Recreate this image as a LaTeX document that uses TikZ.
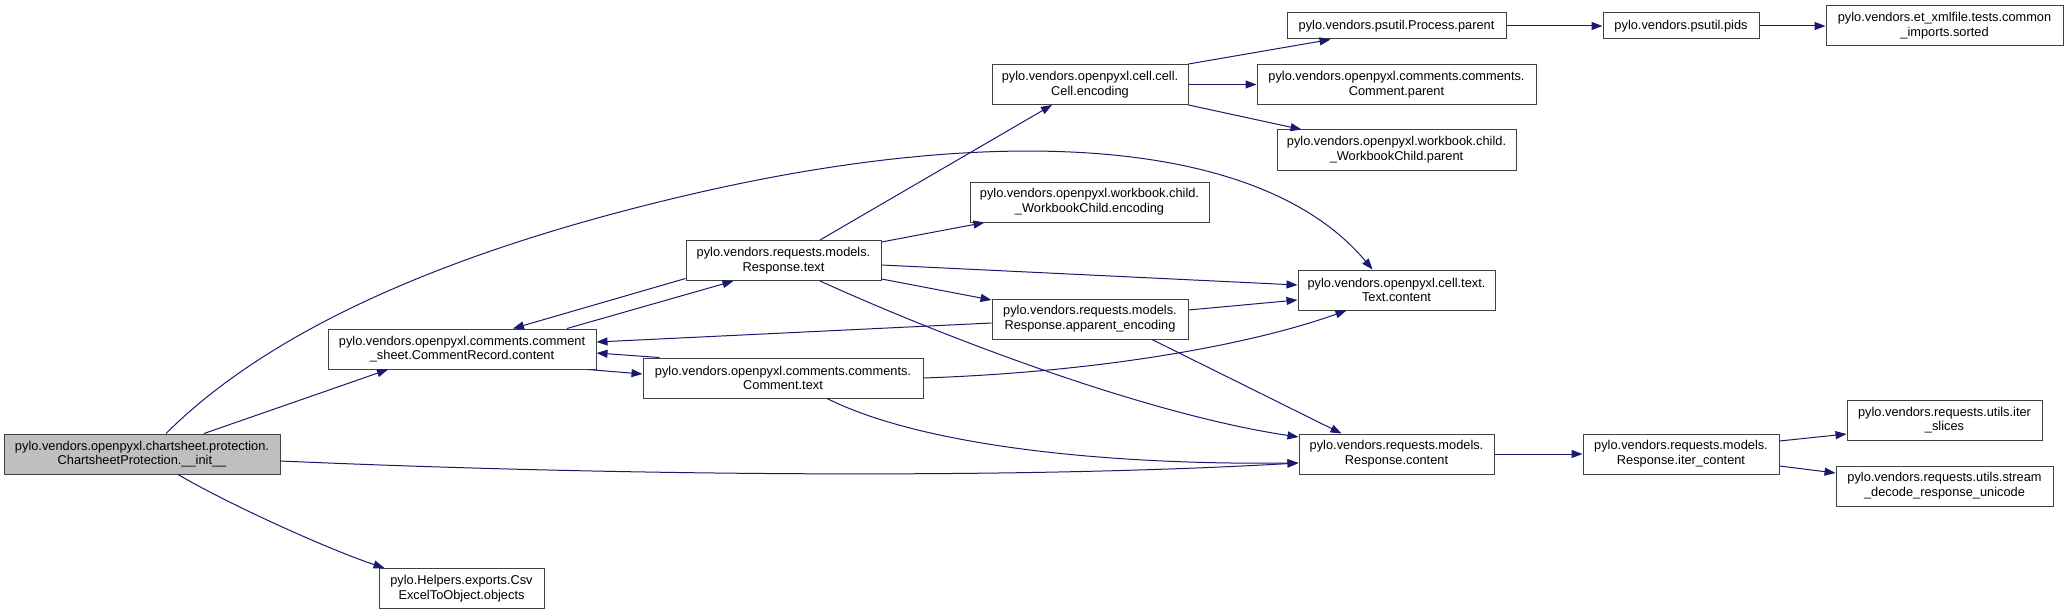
\documentclass[tikz,border=0pt]{standalone}
\usepackage{fontspec}
\setmainfont{Liberation Sans}
\usetikzlibrary{arrows.meta,calc}
\definecolor{enlace}{RGB}{25,25,112}
\definecolor{borde}{RGB}{64,64,64}
\definecolor{raiz}{RGB}{191,191,191}
\tikzset{
  fn/.style={draw=borde, line width=1pt, fill=white, align=center, inner sep=2pt, minimum height=40pt, font=\fontsize{12.8}{14.7}\selectfont},
  fnuna/.style={fn, minimum height=26pt},
  fnraiz/.style={fn, fill=raiz},
  fl/.style={-{Triangle[length=11pt,width=8pt]}, line width=1pt, enlace},
}
\begin{document}
\begin{tikzpicture}[x=1pt,y=-1pt]
  \useasboundingbox (0,0) rectangle (2068,615);
  % call graph boxes
  \node[fnraiz, minimum width=276pt] (main) at (142,454) {pylo.vendors.openpyxl.chartsheet.protection.\\ChartsheetProtection.\_\_init\_\_};
  \node[fn, minimum width=268pt] (cr) at (462,349) {pylo.vendors.openpyxl.comments.comment\\\_sheet.CommentRecord.content};
  \node[fn, minimum width=165pt] (csv) at (461.5,588.5) {pylo.Helpers.exports.Csv\\ExcelToObject.objects};
  \node[fn, minimum width=195pt] (rtext) at (783.5,260.5) {pylo.vendors.requests.models.\\Response.text};
  \node[fn, minimum width=280pt] (ctext) at (783,378) {pylo.vendors.openpyxl.comments.comments.\\Comment.text};
  \node[fn, minimum width=196pt] (aenc) at (1090,319) {pylo.vendors.requests.models.\\Response.apparent\_encoding};
  \node[fn, minimum width=196pt] (cellenc) at (1090,84.5) {pylo.vendors.openpyxl.cell.cell.\\Cell.encoding};
  \node[fn, minimum width=239pt] (wbenc) at (1089.5,202) {pylo.vendors.openpyxl.workbook.child.\\\_WorkbookChild.encoding};
  \node[fn, minimum width=197pt] (tcontent) at (1396.5,290) {pylo.vendors.openpyxl.cell.text.\\Text.content};
  \node[fn, minimum width=195pt] (rcontent) at (1396.5,454) {pylo.vendors.requests.models.\\Response.content};
  \node[fnuna, minimum width=219pt] (pparent) at (1396.5,26) {pylo.vendors.psutil.Process.parent};
  \node[fn, minimum width=279pt] (cparent) at (1396.5,84.5) {pylo.vendors.openpyxl.comments.comments.\\Comment.parent};
  \node[fn, minimum width=239pt] (wbparent) at (1396.5,150) {pylo.vendors.openpyxl.workbook.child.\\\_WorkbookChild.parent};
  \node[fnuna, minimum width=156pt] (pids) at (1681,26) {pylo.vendors.psutil.pids};
  \node[fn, minimum width=237pt] (sorted) at (1944.5,26) {pylo.vendors.et\_xmlfile.tests.common\\\_imports.sorted};
  \node[fn, minimum width=196pt] (itercontent) at (1681,454) {pylo.vendors.requests.models.\\Response.iter\_content};
  \node[fn, minimum width=195pt] (slices) at (1944.5,420) {pylo.vendors.requests.utils.iter\\\_slices};
  \node[fn, minimum width=217pt] (stream) at (1944.5,486) {pylo.vendors.requests.utils.stream\\\_decode\_response\_unicode};
  % calls
  \draw[fl] ($(main.north)+(62,0)$) -- ($(cr.south)+(-74,0)$);
  \draw[fl] ($(main.north)+(24,0)$) .. controls (260,340) and (420,260) .. (667,200)
    .. controls (990,121) and (1260,135) .. ($(tcontent.north)+(-24,0)$);
  \draw[fl] ($(main.east)+(0,7)$) .. controls (600,475) and (1000,480) .. ($(rcontent.west)+(0,9)$);
  \draw[fl] ($(main.south)+(36,0)$) .. controls (230,505) and (330,550) .. ($(csv.north west)+(6,0)$);
  \draw[fl] ($(cr.north)+(105,0)$) -- ($(rtext.south)+(-50,0)$);
  \draw[fl] ($(rtext.west)+(0,18)$) -- ($(cr.north)+(51,0)$);
  \draw[fl] ($(cr.south east)+(-9,0)$) -- ($(ctext.west)+(0,-4)$);
  \draw[fl] ($(ctext.north west)+(17,0)$) -- ($(cr.east)+(0,4)$);
  \draw[fl] ($(aenc.west)+(0,4)$) -- ($(cr.east)+(0,-7)$);
  \draw[fl] ($(rtext.north)+(36.5,0)$) -- ($(cellenc.south)+(-38,0)$);
  \draw[fl] ($(rtext.east)+(0,-18.5)$) -- ($(wbenc.south west)+(15,0)$);
  \draw[fl] ($(rtext.east)+(0,4.5)$) -- ($(tcontent.west)+(0,-5)$);
  \draw[fl] ($(rtext.east)+(0,18.5)$) -- ($(aenc.west)+(0,-19)$);
  \draw[fl] ($(rtext.south)+(36.5,0)$) .. controls (950,340) and (1150,415) .. ($(rcontent.west)+(0,-17)$);
  \draw[fl] ($(aenc.east)+(0,-9)$) -- ($(tcontent.west)+(0,10)$);
  \draw[fl] ($(aenc.south)+(62,0)$) -- ($(rcontent.north)+(-55,0)$);
  \draw[fl] (ctext.east) .. controls (1100,372) and (1250,345) .. ($(tcontent.south)+(-50,0)$);
  \draw[fl] ($(ctext.south)+(44,0)$) .. controls (920,445) and (1100,465) .. ($(rcontent.west)+(0,9)$);
  \draw[fl] (cellenc.north east) -- ($(pparent.south)+(-66,0)$);
  \draw[fl] (cellenc.east) -- (cparent.west);
  \draw[fl] (cellenc.south east) -- ($(wbparent.north west)+(25,0)$);
  \draw[fl] (pparent.east) -- (pids.west);
  \draw[fl] (pids.east) -- (sorted.west);
  \draw[fl] (rcontent.east) -- (itercontent.west);
  \draw[fl] ($(itercontent.east)+(0,-13)$) -- ($(slices.west)+(0,14)$);
  \draw[fl] ($(itercontent.east)+(0,12)$) -- ($(stream.west)+(0,-13)$);
\end{tikzpicture}
\end{document}
